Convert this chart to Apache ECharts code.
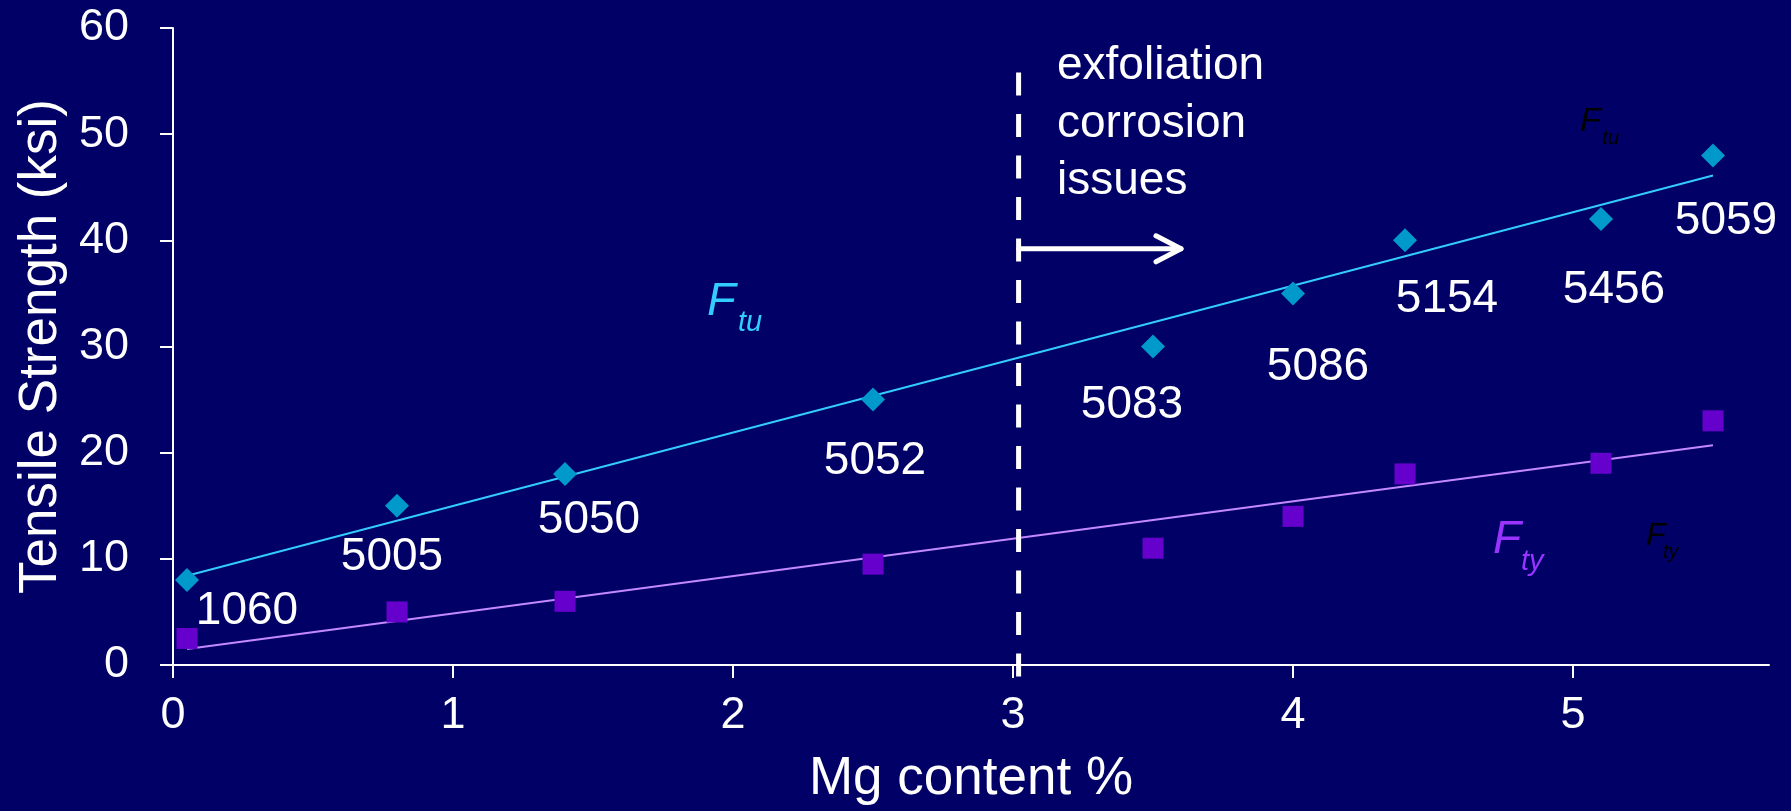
<!DOCTYPE html>
<html><head><meta charset="utf-8">
<script src="https://cdn.jsdelivr.net/npm/echarts@6/dist/echarts.min.js"></script>
<style>html,body{margin:0;padding:0;background:#000066;}#c{width:1791px;height:811px;}</style>
</head><body><div id="c"></div>
<script>
// ---- data ----
const alloys = ['1060','5005','5050','5052','5083','5086','5154','5456','5059'];
const mgContent = [0.05, 0.8, 1.4, 2.5, 3.5, 4.0, 4.4, 5.1, 5.5];
const ftu = [8, 15, 18, 25, 30, 35, 40, 42, 48];
const fty = [2.5, 5, 6, 9.5, 11, 14, 18, 19, 23];
const ftuTrend = [[0.05, 8.4], [5.5, 46.1]];
const ftyTrend = [[0.05, 1.5], [5.5, 20.7]];
const xTicks = [0, 1, 2, 3, 4, 5];
const yTicks = [0, 10, 20, 30, 40, 50, 60];
const divider = [[3.02, 55.8], [3.02, -1.6]];
const arrowLine = [[3.02, 39.2], [3.6, 39.2]];

// ---- layout (label offsets in px) ----
const labelOffsets = [[60,31],[-5,52],[24,46],[2,62],[-21,59],[25,74],[42,59],[13,71],[13,66]];

const FONT = "'Liberation Sans', Arial, sans-serif";
const chart = echarts.init(document.getElementById('c'));

const ftuData = mgContent.map((x, i) => ({ value: [x, ftu[i]], name: alloys[i], label: { offset: labelOffsets[i] } }));
const ftyData = mgContent.map((x, i) => [x, fty[i]]);

function txt(x, y, text, size, color, italic) {
  return { type: 'text', x: x, y: y, z: 100, style: { text: text, fill: color, font: (italic ? 'italic ' : '') + size + 'px ' + FONT, textAlign: 'left', textVerticalAlign: 'middle' } };
}

chart.setOption({
  animation: false,
  backgroundColor: '#000066',
  grid: { left: 173, right: 22, top: 28, bottom: 145 },
  xAxis: {
    type: 'value', min: 0, max: 5.7, interval: 1,
    name: 'Mg content %', nameLocation: 'middle', nameGap: 88,
    nameTextStyle: { color: '#fff', fontSize: 53, fontFamily: FONT },
    axisLine: { show: true, lineStyle: { color: '#fff', width: 2 } },
    axisTick: { show: true, length: 13, lineStyle: { color: '#fff', width: 2 }, customValues: xTicks },
    axisLabel: { color: '#fff', fontSize: 45, fontFamily: FONT, margin: 28, customValues: xTicks },
    splitLine: { show: false }
  },
  yAxis: {
    type: 'value', min: 0, max: 60, interval: 10,
    name: 'Tensile Strength (ksi)', nameLocation: 'middle', nameGap: 100,
    nameTextStyle: { color: '#fff', fontSize: 53, fontFamily: FONT },
    axisLine: { show: true, lineStyle: { color: '#fff', width: 2 } },
    axisTick: { show: true, length: 13, lineStyle: { color: '#fff', width: 2 }, customValues: yTicks },
    axisLabel: { color: '#fff', fontSize: 45, fontFamily: FONT, margin: 44, customValues: yTicks },
    splitLine: { show: false }
  },
  series: [
    { type: 'line', data: ftuTrend, showSymbol: false, symbol: 'none', lineStyle: { color: '#33CCFF', width: 2 }, z: 2 },
    { type: 'line', data: ftyTrend, showSymbol: false, symbol: 'none', lineStyle: { color: '#C488FF', width: 2 }, z: 2 },
    { type: 'line', data: divider, clip: false, symbol: 'none', lineStyle: { color: '#fff', width: 5, type: [23, 18.5] }, z: 3 },
    { type: 'line', data: arrowLine, clip: false, symbol: 'none', lineStyle: { color: '#fff', width: 5, cap: 'round' }, z: 3 },
    { type: 'scatter', data: ftuData, symbol: 'diamond', symbolSize: 24, itemStyle: { color: '#0099CC', opacity: 1 }, z: 4,
      label: { show: true, position: 'inside', formatter: p => p.name, color: '#fff', fontSize: 46, fontFamily: FONT, align: 'center', verticalAlign: 'middle' } },
    { type: 'scatter', data: ftyData, symbol: 'rect', symbolSize: 21, itemStyle: { color: '#6600CC', opacity: 1 }, z: 4 }
  ]
});

const tip = chart.convertToPixel({ gridIndex: 0 }, arrowLine[1]);
chart.setOption({
  graphic: [
    { type: 'polyline', z: 100, shape: { points: [[tip[0] - 25, tip[1] - 13], [tip[0], tip[1]], [tip[0] - 25, tip[1] + 13]] },
      style: { stroke: '#fff', lineWidth: 5, fill: null, lineCap: 'round', lineJoin: 'round' } },
    txt(1057, 66, 'exfoliation', 46, '#fff', false),
    txt(1057, 124, 'corrosion', 46, '#fff', false),
    txt(1057, 181, 'issues', 46, '#fff', false),
    txt(707, 302, 'F', 47, '#33CCFF', true),
    txt(738, 323, 'tu', 29, '#33CCFF', true),
    txt(1493, 540, 'F', 46, '#9933FF', true),
    txt(1521, 562, 'ty', 29, '#9933FF', true),
    txt(1580, 122, 'F', 34, '#000000', true),
    txt(1602, 138, 'tu', 21, '#000000', true),
    txt(1646, 536, 'F', 32, '#000000', true),
    txt(1663, 552, 'ty', 20, '#000000', true)
  ]
});
</script></body></html>
